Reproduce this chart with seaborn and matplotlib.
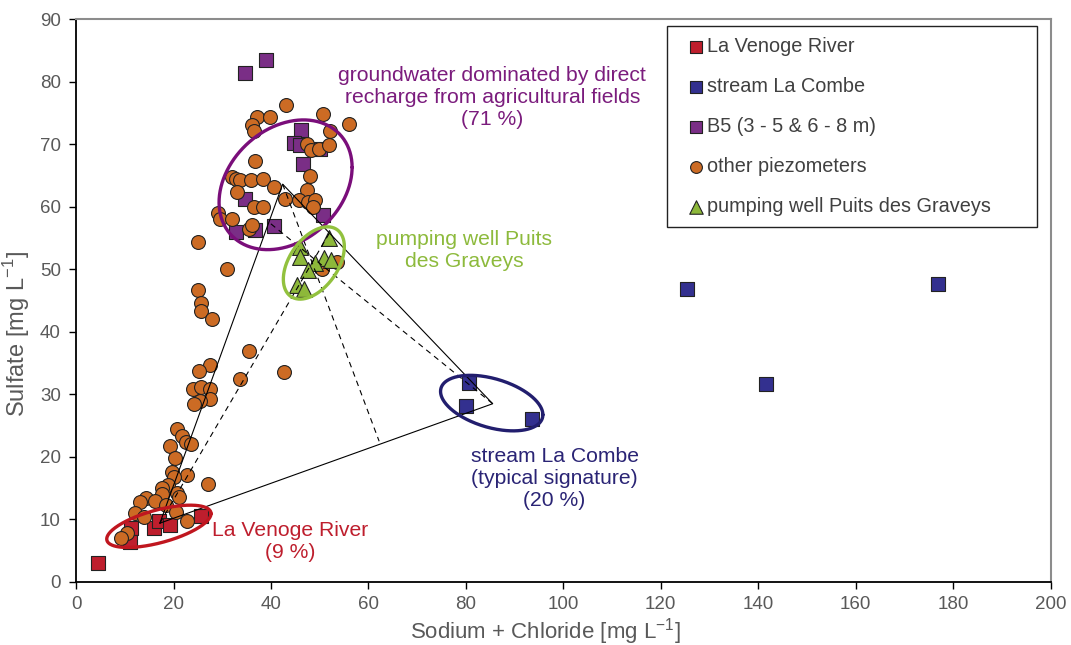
import numpy as np
import pandas as pd
import matplotlib
matplotlib.use('Agg')
import matplotlib.pyplot as plt
import seaborn as sns

# --- данные (Na+Cl, SO4) ---
venoge_x = [4.5, 11.3, 11.1, 15.9, 17.0, 19.2, 25.7]
venoge_y = [3.0, 8.6, 6.4, 8.7, 9.7, 9.1, 10.5]

combe_x = [80.6, 80.0, 93.5, 125.3, 176.8, 141.5]
combe_y = [31.8, 28.1, 26.1, 46.9, 47.6, 31.6]

b5_x = [34.7, 39.0, 46.1, 44.8, 46.0, 50.0, 46.5, 34.6, 50.7, 32.9, 36.8, 40.6]
b5_y = [81.3, 83.4, 72.3, 70.2, 69.8, 69.3, 66.9, 61.3, 58.7, 56.0, 56.2, 56.9]

piezo_x = [43.1, 37.1, 39.8, 50.7, 56.1, 36.2, 36.5, 52.2, 47.4, 48.2, 49.8, 52.0,
           36.8, 48.0, 32.0, 32.9, 33.6, 35.9, 38.3, 40.7, 33.1, 42.9, 47.4, 45.7,
           47.7, 49.1, 48.6, 36.6, 38.3, 29.2, 29.6, 32.1, 35.4, 36.2, 25.0, 30.9,
           53.5, 50.4,
           25.1, 25.6, 25.6, 27.9, 35.4, 42.7, 33.7, 27.4, 25.3, 24.0, 25.6, 27.4,
           27.5, 25.5, 24.2,
           20.8, 21.7, 22.6, 23.5, 19.3, 20.3, 22.7, 27.0, 19.6, 20.0, 18.9, 17.6,
           20.7, 21.1, 17.6, 14.4, 13.1, 16.2, 18.5, 12.1, 14.0, 20.5, 22.7, 10.4, 9.2]
piezo_y = [76.2, 74.4, 74.3, 74.8, 73.2, 73.0, 72.1, 72.1, 70.0, 69.0, 69.2, 69.9,
           67.3, 64.9, 64.7, 64.4, 64.3, 64.2, 64.4, 63.2, 62.3, 61.3, 62.6, 61.0,
           60.7, 61.0, 59.9, 60.0, 59.9, 59.0, 58.0, 58.1, 56.5, 57.1, 54.3, 50.0,
           51.1, 50.0,
           46.7, 44.6, 43.3, 42.1, 36.9, 33.6, 32.4, 34.7, 33.8, 30.9, 31.1, 30.9,
           29.3, 29.0, 28.4,
           24.4, 23.3, 22.4, 22.1, 21.7, 19.9, 17.1, 15.6, 17.6, 16.8, 15.5, 15.1,
           14.2, 13.6, 14.0, 13.5, 12.8, 13.0, 12.3, 11.1, 10.4, 11.2, 9.8, 7.9, 7.1]

well_x = [51.9, 45.9, 45.9, 50.8, 52.4, 49.1, 47.7, 45.3, 46.7]
well_y = [55.0, 53.6, 51.9, 51.8, 51.4, 51.0, 49.8, 47.4, 46.9]

labels = ['La Venoge River', 'stream La Combe', 'B5 (3 - 5 & 6 - 8 m)',
          'other piezometers', 'pumping well Puits des Graveys']

# треугольник смешения: вершины и пунктирные линии
tri_x = [17.2, 42.4, 85.5, 17.2]
tri_y = [9.4, 63.6, 28.5, 9.4]
dash_lines = [([17.2, 52.0], [9.4, 55.8]),
              ([42.4, 62.2], [63.6, 22.5]),
              ([85.5, 39.6], [28.5, 57.5])]

groups = pd.DataFrame({
    'x': venoge_x + combe_x + b5_x + piezo_x + well_x,
    'y': venoge_y + combe_y + b5_y + piezo_y + well_y,
    'group': [labels[0]] * len(venoge_x) + [labels[1]] * len(combe_x)
             + [labels[2]] * len(b5_x) + [labels[3]] * len(piezo_x)
             + [labels[4]] * len(well_x),
})

colors = ['#BE1E2D', '#33308F', '#7A2E86', '#CC6B24', '#8DB83A']
markers = ['s', 's', 's', 'o', '^']
sizes = [95, 95, 95, 100, 130]

sns.set_style('white')
plt.rcParams['font.family'] = ['Liberation Sans', 'DejaVu Sans']

fig = plt.figure(figsize=(10.71, 6.45), dpi=100)
ax = fig.add_axes([0.071, 0.0977, 0.910, 0.8728])

handles = []
for lab, c, m, s in zip(labels, colors, markers, sizes):
    sub = groups[groups['group'] == lab]
    sns.scatterplot(data=sub, x='x', y='y', ax=ax, color=c, marker=m, s=s,
                    edgecolor='#222222', linewidth=0.8, legend=False, zorder=3)
    handles.append(ax.collections[-1])

# линии треугольника
ax.plot(tri_x, tri_y, color='black', lw=0.8, zorder=4)
for lx, ly in dash_lines:
    ax.plot(lx, ly, color='black', lw=0.8, ls=(0, (5, 4)), zorder=4)


# эллипсы (центр, полуоси по x и y, фаза наклона)
def ellipse(cx, cy, rx, ry, phi, color):
    t = np.linspace(0, 2 * np.pi, 300)
    ax.plot(cx + rx * np.cos(t), cy + ry * np.cos(t - phi), color=color, lw=2.4, zorder=5)


ellipse(43.0, 63.5, 13.65, 10.37, np.arccos(0.27), '#7A0E7A')
ellipse(48.8, 51.0, 6.26, 5.78, np.arccos(0.45), '#92C13E')
ellipse(85.3, 28.6, 10.5, 4.44, np.arccos(-0.42), '#221E6E')
ellipse(17.0, 8.9, 10.7, 3.38, np.arccos(0.6), '#C0161F')

txt = dict(ha='center', va='center', fontsize=15.2, linespacing=1.2, zorder=6)
ax.text(85.4, 77.5, 'groundwater dominated by direct\nrecharge from agricultural fields\n(71 %)',
        color='#7B1C7D', **txt)
ax.text(79.7, 53.0, 'pumping well Puits\ndes Graveys', color='#8DBA3C', **txt)
ax.text(98.2, 16.6, 'stream La Combe\n(typical signature)\n(20 %)', color='#2A2475', **txt)
ax.text(43.9, 6.5, 'La Venoge River\n(9 %)', color='#BE1E2D', **txt)

ax.set_xlim(0, 200)
ax.set_ylim(0, 90)
ax.set_xticks(np.arange(0, 201, 20))
ax.set_yticks(np.arange(0, 91, 10))
ax.tick_params(axis='both', direction='out', length=5, width=1, color='black',
               labelsize=13.5, labelcolor='#595959', left=True, bottom=True)
ax.tick_params(axis='y', pad=6)
ax.tick_params(axis='x', pad=5)
ax.set_xlabel('Sodium + Chloride [mg L$^{\\mathregular{-1}}$]', fontsize=16, color='#595959')
ax.set_ylabel('Sulfate [mg L$^{\\mathregular{-1}}$]', fontsize=17, color='#595959')
ax.xaxis.set_label_coords(0.482, -0.06)
ax.yaxis.set_label_coords(-0.045, 0.44)

for side in ['left', 'bottom']:
    ax.spines[side].set_color('black')
    ax.spines[side].set_linewidth(1.3)
for side in ['top', 'right']:
    ax.spines[side].set_color('#8C8C8C')
    ax.spines[side].set_linewidth(1.5)

leg = ax.legend(handles, labels, loc='upper left',
                bbox_to_anchor=(0.6066, 0.9876, 0.379, 0), mode='expand',
                borderaxespad=0, fancybox=False, framealpha=1, edgecolor='#222222',
                fontsize=14.3, labelspacing=1.06, borderpad=0.55, handlelength=1.8,
                handletextpad=-0.35, markerscale=0.85)
leg.get_frame().set_linewidth(1.0)
for t in leg.get_texts():
    t.set_color('#404040')

plt.savefig('out.png', dpi=100)
